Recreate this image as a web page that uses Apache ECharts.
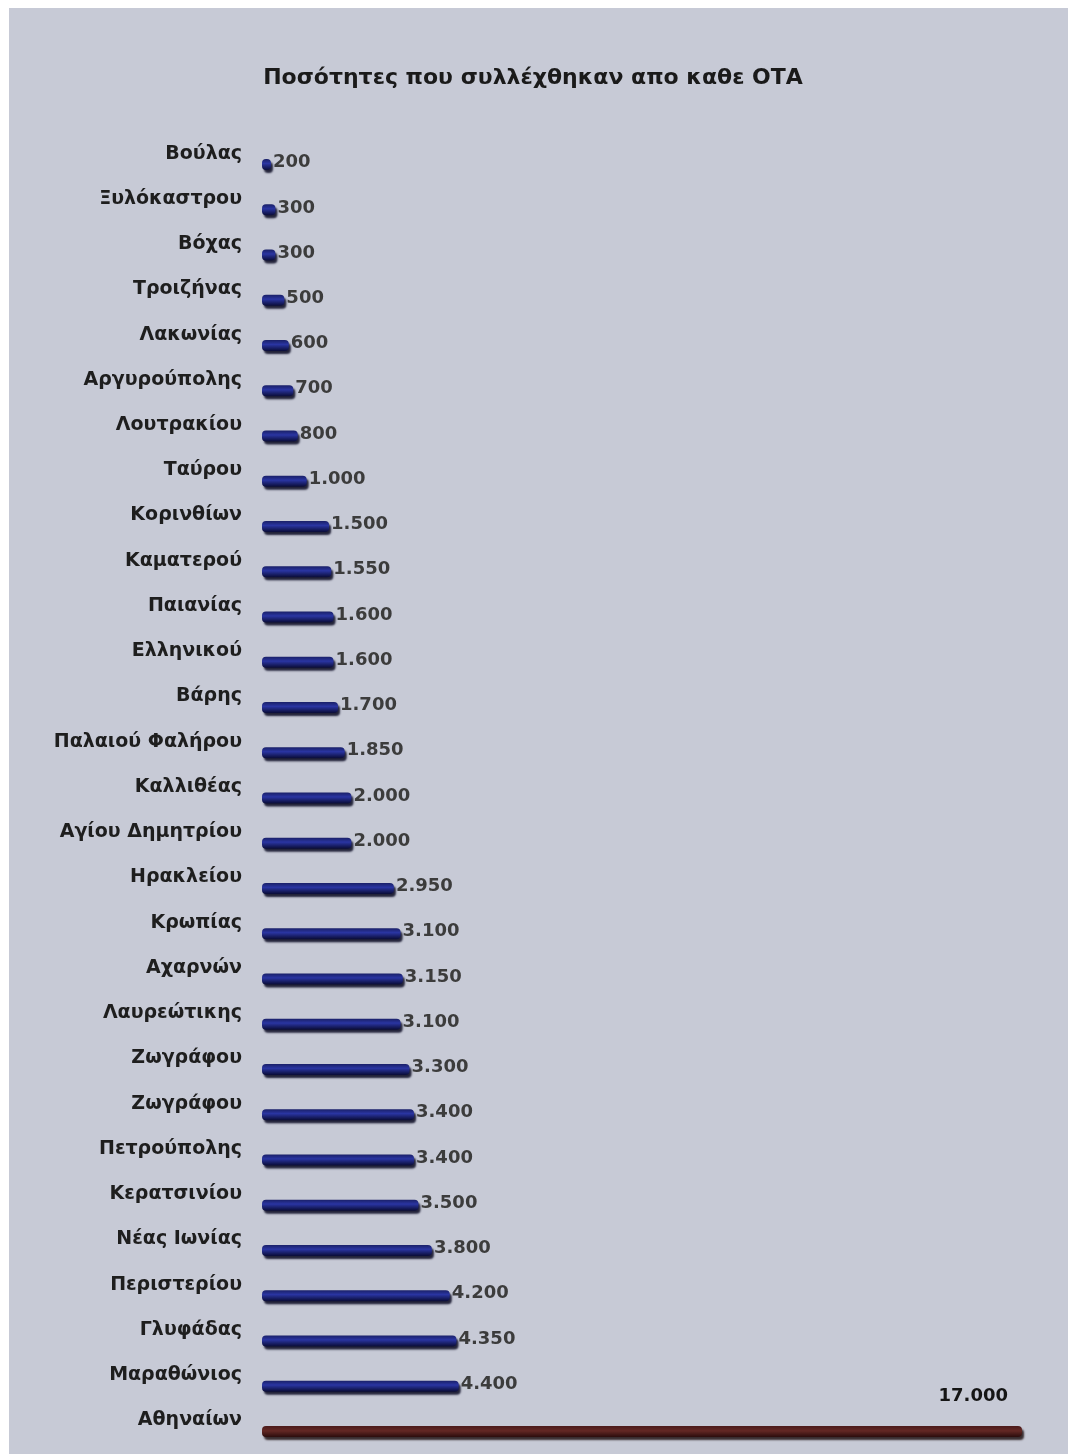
<!DOCTYPE html>
<html>
<head>
<meta charset="utf-8">
<script src="https://cdn.jsdelivr.net/npm/echarts@6/dist/echarts.min.js"></script>
<style>
  html, body { margin: 0; padding: 0; background: #ffffff; }
  #chart { position: absolute; left: 9px; top: 8px; width: 1059px; height: 1446px; }
</style>
</head>
<body>
<div id="chart"></div>
<script>
// Municipalities (top to bottom) and collected quantities
const municipalities = [
  'Βούλας', 'Ξυλόκαστρου', 'Βόχας', 'Τροιζήνας', 'Λακωνίας', 'Αργυρούπολης',
  'Λουτρακίου', 'Ταύρου', 'Κορινθίων', 'Καματερού', 'Παιανίας', 'Ελληνικού',
  'Βάρης', 'Παλαιού Φαλήρου', 'Καλλιθέας', 'Αγίου Δημητρίου', 'Ηρακλείου',
  'Κρωπίας', 'Αχαρνών', 'Λαυρεώτικης', 'Ζωγράφου', 'Ζωγράφου', 'Πετρούπολης',
  'Κερατσινίου', 'Νέας Ιωνίας', 'Περιστερίου', 'Γλυφάδας', 'Μαραθώνιος', 'Αθηναίων'
];
const quantities = [
  200, 300, 300, 500, 600, 700,
  800, 1000, 1500, 1550, 1600, 1600,
  1700, 1850, 2000, 2000, 2950,
  3100, 3150, 3100, 3300, 3400, 3400,
  3500, 3800, 4200, 4350, 4400, 17000
];
const titleText = 'Ποσότητες που συλλέχθηκαν απο καθε ΟΤΑ';

const FONT = 'DejaVu Sans';
const fmt = v => String(v).replace(/\B(?=(\d{3})+(?!\d))/g, '.');

const blueBar = new echarts.graphic.LinearGradient(0, 0, 0, 1, [
  { offset: 0, color: '#1a2068' },
  { offset: 0.4, color: '#2a35a2' },
  { offset: 1, color: '#0a0c36' }
]);
const redBar = new echarts.graphic.LinearGradient(0, 0, 0, 1, [
  { offset: 0, color: '#4a1a1a' },
  { offset: 0.45, color: '#632824' },
  { offset: 1, color: '#2c0d0d' }
]);

const lastIdx = quantities.length - 1;
const seriesData = quantities.map((v, i) => {
  if (i === lastIdx) {
    return {
      value: v,
      itemStyle: { color: redBar, shadowColor: 'rgba(20,5,5,0.8)' },
      label: {
        position: 'insideRight',
        offset: [-12, -35],
        color: '#151515',
        fontSize: 18,
        fontWeight: 'bold'
      }
    };
  }
  return v;
});

const chart = echarts.init(document.getElementById('chart'));
chart.setOption({
  backgroundColor: '#c7cad6',
  animation: false,
  title: {
    text: titleText,
    left: 519,
    top: 54,
    textAlign: 'center',
    textStyle: { fontFamily: FONT, fontSize: 22, fontWeight: 'bold', color: '#1a1a1a' }
  },
  grid: { left: 253, right: 46, top: 134, bottom: 0, containLabel: false },
  xAxis: {
    type: 'value',
    min: 0,
    max: 17000,
    show: false
  },
  yAxis: {
    type: 'category',
    inverse: true,
    data: municipalities,
    axisLine: { show: false },
    axisTick: { show: false },
    splitLine: { show: false },
    axisLabel: {
      margin: 20,
      fontFamily: FONT,
      fontSize: 19,
      fontWeight: 'bold',
      color: '#1e1e1e',
      verticalAlign: 'bottom',
      lineHeight: 22
    }
  },
  series: [{
    type: 'bar',
    data: seriesData,
    barWidth: 11,
    itemStyle: {
      color: blueBar,
      borderRadius: 4,
      shadowColor: 'rgba(5,5,30,0.85)',
      shadowBlur: 2,
      shadowOffsetX: 2,
      shadowOffsetY: 3
    },
    label: {
      show: true,
      position: 'right',
      distance: 2,
      offset: [0, -2],
      fontFamily: FONT,
      fontSize: 18,
      fontWeight: 'bold',
      color: '#3c3c3c',
      formatter: p => fmt(p.value)
    }
  }]
});
</script>
</body>
</html>
